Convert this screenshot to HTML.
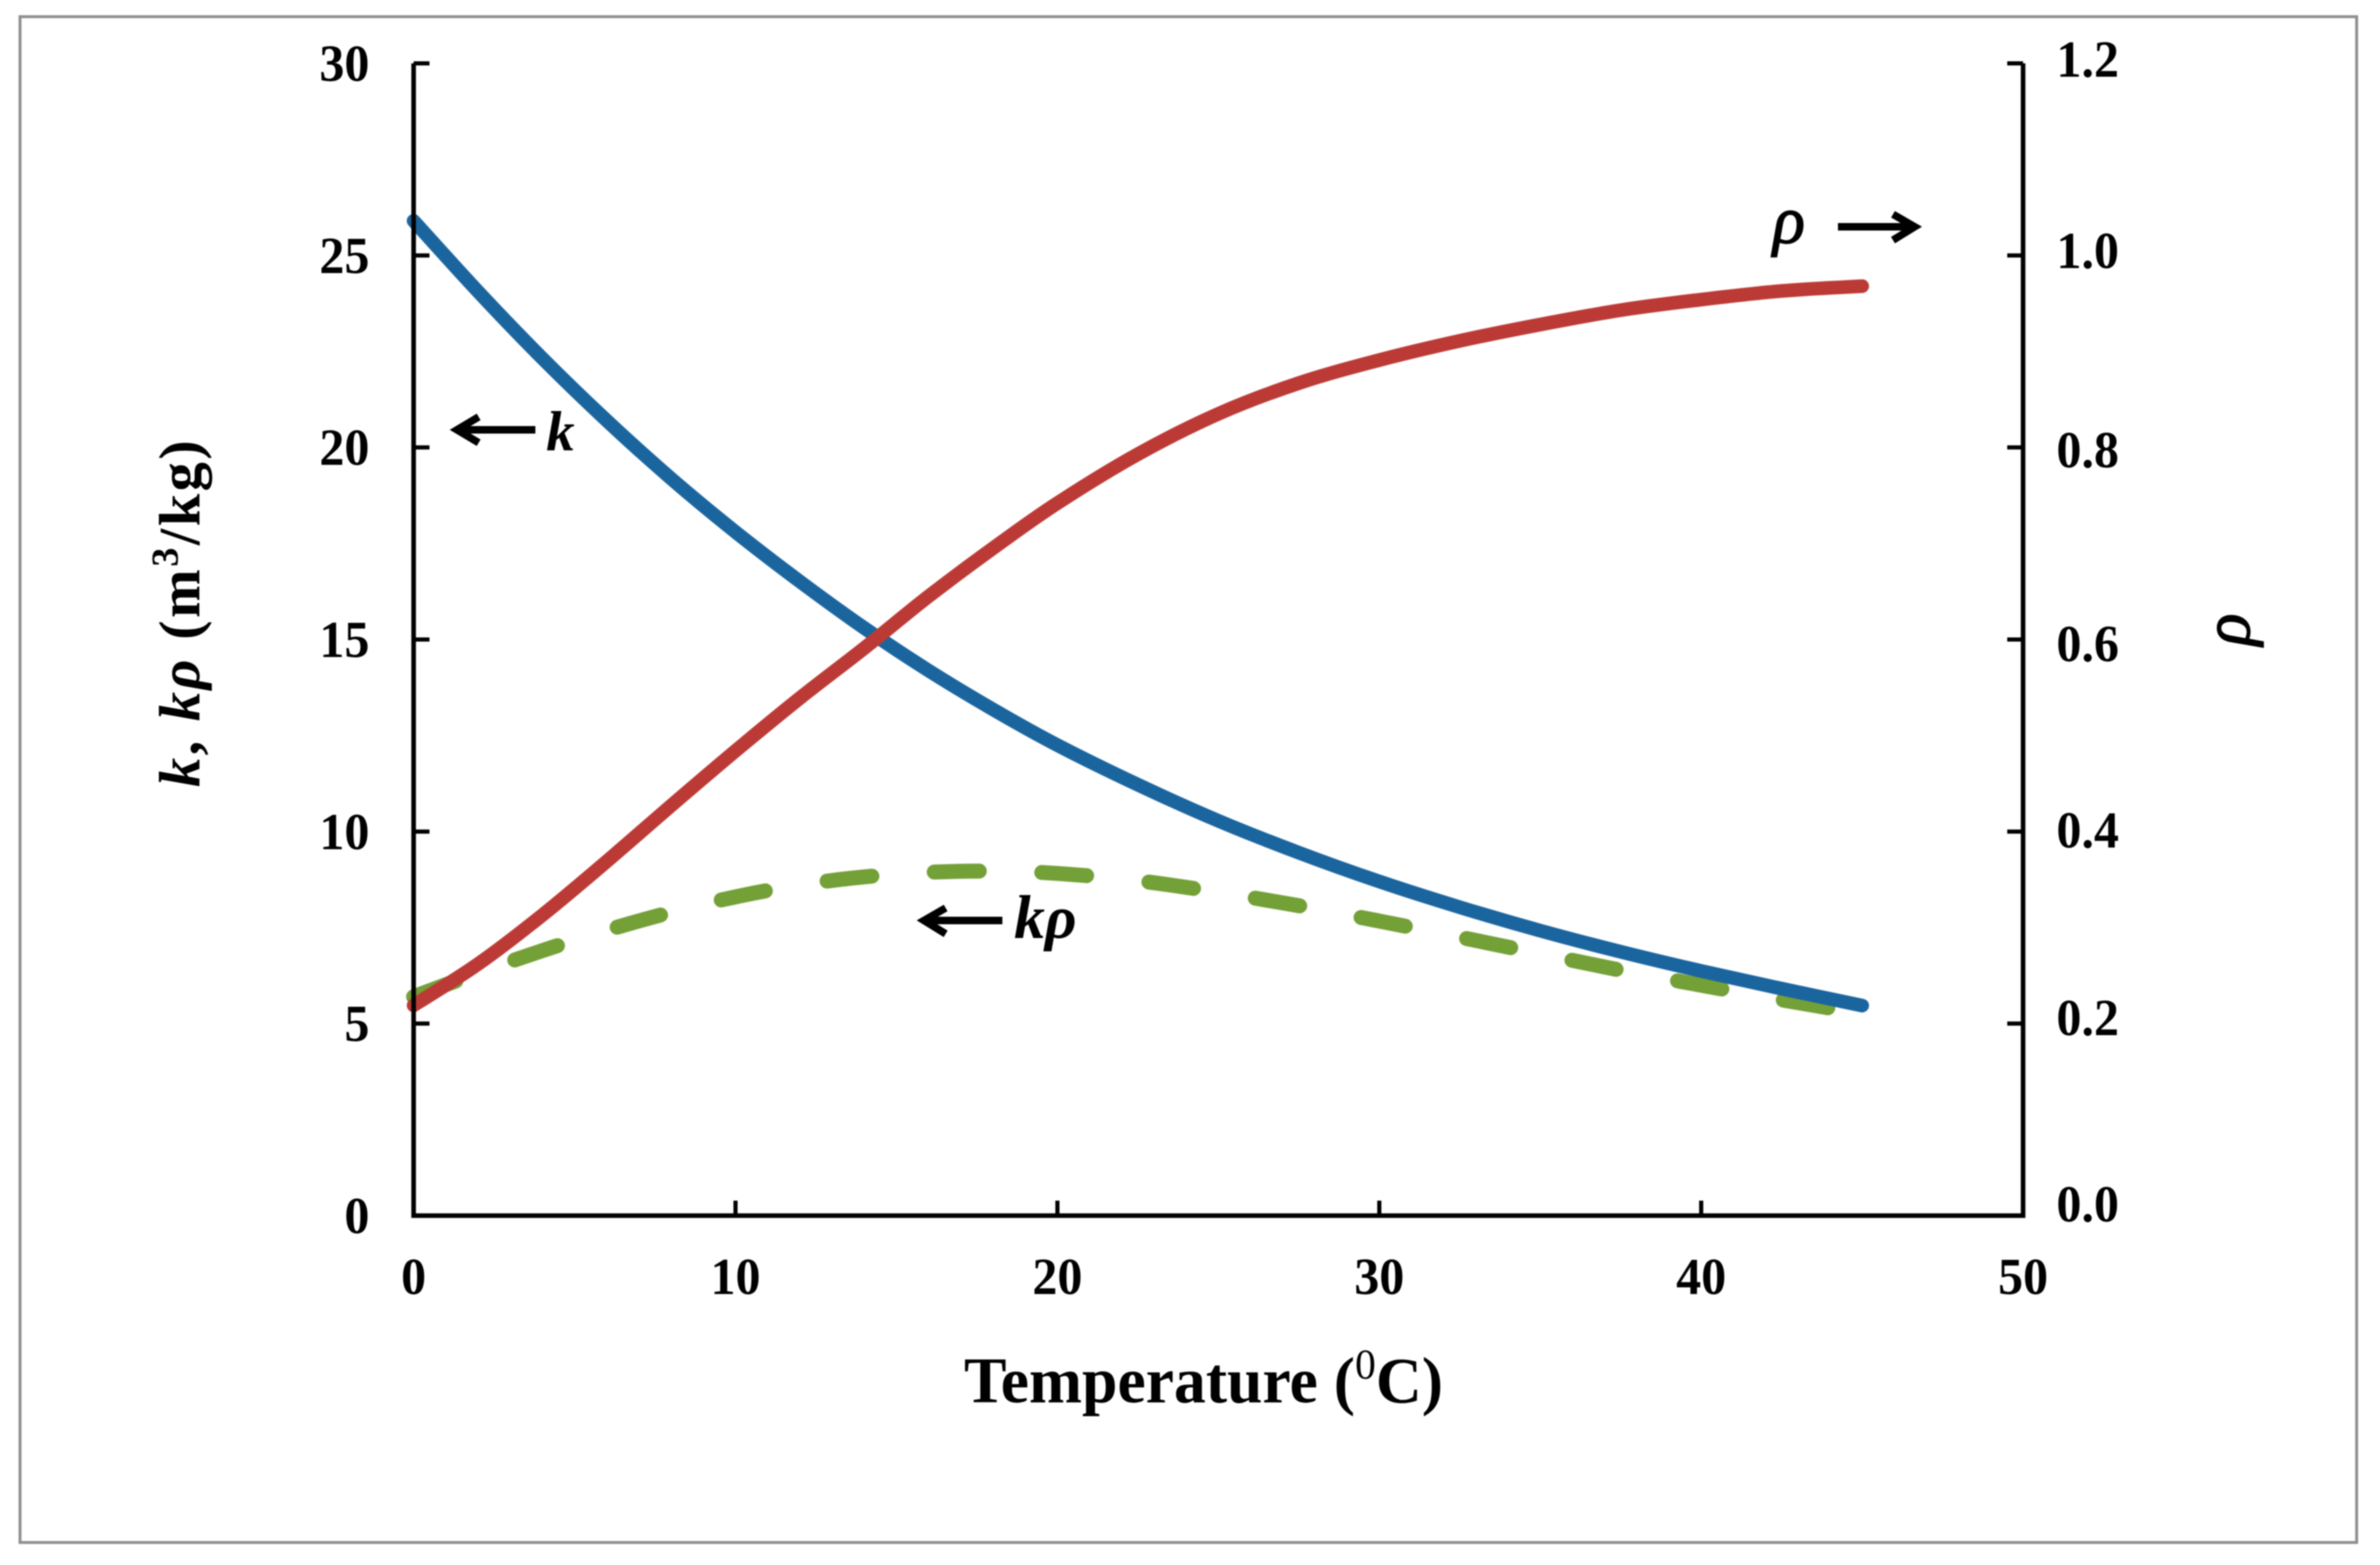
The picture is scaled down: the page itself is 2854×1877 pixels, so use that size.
<!DOCTYPE html>
<html lang="en">
<head>
<meta charset="utf-8">
<title>k, kρ and ρ versus temperature</title>
<style>
  html, body { margin: 0; padding: 0; background: #ffffff; }
  body { width: 2854px; height: 1877px; overflow: hidden; }
  svg { display: block; filter: blur(0.7px); }
  text { font-family: "Liberation Serif", serif; fill: #000; font-weight: bold; }
  .it { font-style: italic; }
  .thin { font-weight: normal; stroke: #000; stroke-width: 1.5px; }
</style>
</head>
<body>
<svg id="chart" xmlns="http://www.w3.org/2000/svg" width="2854" height="1877" viewBox="0 0 2854 1877">
  <rect x="0" y="0" width="2854" height="1877" fill="#ffffff"></rect>
  <rect x="24" y="20" width="2802" height="1830" fill="#ffffff" stroke="#8f8f8f" stroke-width="3.5"></rect>

  <g id="series-layer"></g>
  <g id="axis-layer"></g>

  <text transform="translate(239,944) rotate(-90)" font-size="70" textLength="416" lengthAdjust="spacing"><tspan class="it">k</tspan>, <tspan class="it">kρ</tspan> (m<tspan font-size="46" dy="-26">3</tspan><tspan dy="26">/kg)</tspan></text>
  <text transform="translate(1156,1682) scale(1,1.02)" font-size="76.4">Temperature (<tspan font-size="50" dy="-28" font-weight="normal">0</tspan><tspan dy="28">C)</tspan></text>
  <text class="it thin" transform="translate(2697,755) rotate(-90)" font-size="80" text-anchor="middle">ρ</text>

  <g>
    <line x1="550" y1="515.5" x2="642" y2="515.5" stroke="#000" stroke-width="9"></line>
    <polyline points="574,500 548,515.5 574,531" fill="none" stroke="#000" stroke-width="9"></polyline>
    <text class="it" x="655" y="540" font-size="68">k</text>
  </g>
  <g>
    <line x1="1110" y1="1104" x2="1202" y2="1104" stroke="#000" stroke-width="9"></line>
    <polyline points="1134,1089 1108,1104 1134,1120" fill="none" stroke="#000" stroke-width="9"></polyline>
    <text class="it" x="1216" y="1125" font-size="74">kρ</text>
  </g>
  <g>
    <text class="it thin" x="2126" y="291" font-size="80">ρ</text>
    <line x1="2204" y1="272" x2="2292" y2="272" stroke="#000" stroke-width="9"></line>
    <polyline points="2270,257 2296,272 2270,288" fill="none" stroke="#000" stroke-width="9"></polyline>
  </g>
</svg>

<script>
// Data
const temperature = [0, 2, 4, 6, 8, 10, 12, 14, 16, 18, 20, 22.5, 25, 27.5, 30, 32.5, 35, 37.5, 40, 42.5, 45];
const kValues = [25.9, 24.06, 22.32, 20.7, 19.19, 17.8, 16.51, 15.3, 14.19, 13.18, 12.25, 11.22, 10.28, 9.45, 8.7, 8.03, 7.42, 6.87, 6.37, 5.91, 5.47];
const rhoValues = [0.219, 0.262, 0.313, 0.369, 0.427, 0.484, 0.539, 0.591, 0.645, 0.695, 0.742, 0.793, 0.835, 0.867, 0.891, 0.911, 0.928, 0.943, 0.954, 0.963, 0.968];
const kRhoValues = [5.7, 6.32, 6.9, 7.43, 7.9, 8.3, 8.61, 8.82, 8.94, 8.97, 8.91, 8.72, 8.42, 8.07, 7.67, 7.25, 6.82, 6.39, 6.0, 5.62, 5.26];

// Tick labels
const xTickLabels = ["0", "10", "20", "30", "40", "50"];
const leftTickLabels = ["0", "5", "10", "15", "20", "25", "30"];
const rightTickLabels = ["0.0", "0.2", "0.4", "0.6", "0.8", "1.0", "1.2"];

// Plot geometry and axis functions
const plotLeft = 496, plotRight = 2426, plotTop = 76, plotBottom = 1458;
const xMax = 50, leftMax = 30, rightMax = 1.2;
const rightLabelNudge = [-14, -7, -2, 5, 3, -6, -5];
function xScale(v) { return plotLeft + (v / xMax) * (plotRight - plotLeft); }
function leftScale(v) { return plotBottom - (v / leftMax) * (plotBottom - plotTop); }
function rightScale(v) { return plotBottom - (v / rightMax) * (plotBottom - plotTop); }

const NS = "http://www.w3.org/2000/svg";
function make(tag, attrs, parent) {
  const el = document.createElementNS(NS, tag);
  for (const key in attrs) el.setAttribute(key, attrs[key]);
  parent.appendChild(el);
  return el;
}

// Smooth line (Catmull-Rom converted to cubic Bezier)
function smoothPath(xs, ys) {
  const pts = xs.map(function (x, i) { return [x, ys[i]]; });
  let d = "M" + pts[0][0].toFixed(2) + " " + pts[0][1].toFixed(2);
  for (let i = 0; i < pts.length - 1; i++) {
    const p0 = pts[Math.max(i - 1, 0)];
    const p1 = pts[i];
    const p2 = pts[i + 1];
    const p3 = pts[Math.min(i + 2, pts.length - 1)];
    const c1x = p1[0] + (p2[0] - p0[0]) / 6;
    const c1y = p1[1] + (p2[1] - p0[1]) / 6;
    const c2x = p2[0] - (p3[0] - p1[0]) / 6;
    const c2y = p2[1] - (p3[1] - p1[1]) / 6;
    d += "C" + c1x.toFixed(2) + " " + c1y.toFixed(2) + " " + c2x.toFixed(2) + " " + c2y.toFixed(2) + " " + p2[0].toFixed(2) + " " + p2[1].toFixed(2);
  }
  return d;
}

const seriesLayer = document.getElementById("series-layer");
const axisLayer = document.getElementById("axis-layer");
const xPixels = temperature.map(xScale);

const kRhoLine = make("path", {
  d: smoothPath(xPixels, kRhoValues.map(leftScale)),
  fill: "none", stroke: "#74A038", "stroke-width": 18,
  "stroke-linecap": "round", "stroke-dasharray": "54 75"
}, seriesLayer);



const kLine = make("path", {
  d: smoothPath(xPixels, kValues.map(leftScale)),
  fill: "none", stroke: "#1B659F", "stroke-width": 16.5, "stroke-linecap": "round"
}, seriesLayer);



const rhoLine = make("path", {
  d: smoothPath(xPixels, rhoValues.map(rightScale)),
  fill: "none", stroke: "#BC3A36", "stroke-width": 16.5, "stroke-linecap": "round"
}, seriesLayer);



// Axis lines
const axisPath = make("path", {
  d: "M" + plotLeft + " " + plotTop + "V" + plotBottom + "H" + plotRight + "V" + plotTop,
  fill: "none", stroke: "#000", "stroke-width": 5.5
}, axisLayer);



// X ticks and labels
xTickLabels.forEach(function (label) {
  const v = parseFloat(label);
  const tick = make("line", {
    x1: xScale(v), x2: xScale(v), y1: plotBottom, y2: plotBottom - 18,
    stroke: "#000", "stroke-width": 5
  }, axisLayer);
  
  
  const text = make("text", {
    transform: "translate(" + xScale(v) + ",1552) scale(1,1.05)",
    "font-size": 60, "text-anchor": "middle"
  }, axisLayer);
  text.textContent = label;
  
  
});

// Left ticks and labels
leftTickLabels.forEach(function (label) {
  const v = parseFloat(label);
  const tick = make("line", {
    x1: plotLeft, x2: plotLeft + 19, y1: leftScale(v), y2: leftScale(v),
    stroke: "#000", "stroke-width": 5
  }, axisLayer);
  
  
  const text = make("text", {
    transform: "translate(443," + (leftScale(v) + 21) + ") scale(1,1.05)",
    "font-size": 60, "text-anchor": "end"
  }, axisLayer);
  text.textContent = label;
  
  
});

// Right ticks and labels
rightTickLabels.forEach(function (label, i) {
  const v = parseFloat(label);
  const tick = make("line", {
    x1: plotRight, x2: plotRight - 19, y1: rightScale(v), y2: rightScale(v),
    stroke: "#000", "stroke-width": 5
  }, axisLayer);
  
  
  const text = make("text", {
    transform: "translate(2466," + (rightScale(v) + 21 + rightLabelNudge[i]) + ") scale(1,1.05)",
    "font-size": 60
  }, axisLayer);
  text.textContent = label;
  
  
});
</script>
</body>
</html>
